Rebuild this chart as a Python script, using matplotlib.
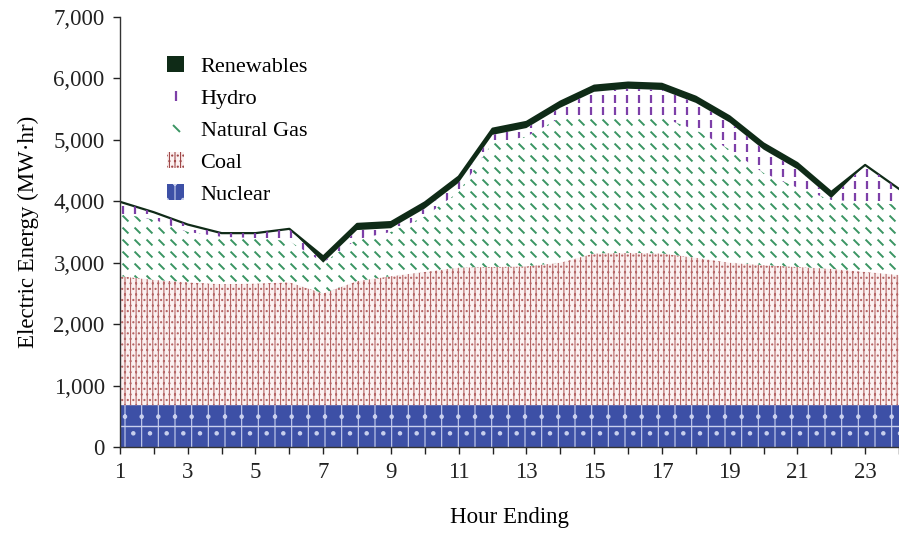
import numpy as np
import matplotlib
matplotlib.use("Agg")
import matplotlib.pyplot as plt
from matplotlib.patches import Patch
from matplotlib.lines import Line2D

plt.rcParams['font.family'] = ['Liberation Serif', 'DejaVu Serif']
plt.rcParams['hatch.linewidth'] = 0.8

# hourly generation by source (MW·hr)
hours = np.arange(1, 25)
nuclear = [680] * 24
coal = [2100, 2040, 2000, 1970, 1980, 2000, 1820, 2020, 2100, 2170, 2240, 2250,
        2260, 2320, 2470, 2480, 2470, 2400, 2320, 2280, 2250, 2220, 2170, 2120]
gas = [1020, 980, 820, 770, 740, 670, 500, 680, 720, 900, 1230, 2020,
       2110, 2360, 2250, 2240, 2210, 2080, 1840, 1500, 1290, 1120, 1140, 1140]
hydro = [190, 120, 120, 60, 80, 200, 0, 150, 60, 130, 150, 130,
         140, 160, 380, 430, 450, 440, 440, 380, 300, 30, 600, 260]
renewables = [0, 0, 0, 0, 0, 0, 100, 100, 100, 100, 100, 100,
              100, 100, 100, 100, 100, 100, 100, 100, 100, 100, 0, 0]

c_nuc = '#3d50a6'
c_coal_bg = '#fbf1f1'
c_coal = '#b56666'
c_gas = '#3a9563'
c_hydro = '#7d3fa8'
c_ren = '#0f2b17'
backslash = [(-1, 1), (1, -1)]

fig = plt.figure(figsize=(8.99, 5.33), dpi=100)
ax = fig.add_axes([0.1335, 0.1614, 0.8665, 0.807])
ax.set_xlim(1, 24)
ax.set_ylim(0, 7000)

b0 = np.zeros(24)
b1 = b0 + np.array(nuclear)
b2 = b1 + np.array(coal)
b3 = b2 + np.array(gas)
b4 = b3 + np.array(hydro)
b5 = b4 + np.array(renewables)

ax.fill_between(hours, b0, b1, facecolor=c_nuc, edgecolor='#c9d0ee', hatch='|.',
                linewidth=0)
ax.plot(hours, b1 / 2, color='#c9d0ee', lw=1.0)
ax.fill_between(hours, b1, b2, facecolor=c_coal_bg, edgecolor=c_coal,
                hatch='|||...', linewidth=0)
gas_poly = ax.fill_between(hours, b2, b3, facecolor='white', linewidth=0)
hyd_poly = ax.fill_between(hours, b3, b4, facecolor='white', linewidth=0)
ax.fill_between(hours, b4, b5, facecolor=c_ren, linewidth=0)
ax.plot(hours, b5, color=c_ren, lw=1.6)

# texture marks for gas and hydro, clipped to their areas
gx, gy = np.meshgrid(np.arange(1.15, 24, 0.354), np.arange(20, 7000, 195))
sc = ax.scatter(gx.ravel(), gy.ravel(), marker=backslash, s=18, color=c_gas,
                linewidths=1.4, zorder=3)
sc.set_clip_path(gas_poly.get_paths()[0], ax.transData)
hx, hy = np.meshgrid(np.arange(1.1, 24, 0.354), np.arange(60, 7000, 200))
sh = ax.scatter(hx.ravel(), hy.ravel(), marker='|', s=40, color=c_hydro,
                linewidths=1.6, zorder=3)
sh.set_clip_path(hyd_poly.get_paths()[0], ax.transData)

ax.set_yticks(range(0, 7001, 1000))
ax.set_yticklabels([f'{v:,}' for v in range(0, 7001, 1000)])
ax.set_xticks(hours)
ax.set_xticklabels([str(h) if h % 2 == 1 else '' for h in hours])
ax.spines['top'].set_visible(False)
ax.spines['right'].set_visible(False)
for s in ['left', 'bottom']:
    ax.spines[s].set_color('#333333')
    ax.spines[s].set_linewidth(1.0)
    ax.spines[s].set_zorder(5)
ax.tick_params(direction='out', length=5, width=1, labelsize=16.5,
               colors='#222222', pad=6)
ax.set_xlabel('Hour Ending', fontsize=16.5, labelpad=17)
ax.set_ylabel('Electric Energy (MW·hr)', fontsize=16.5, labelpad=10)

handles = [
    Patch(facecolor=c_ren, linewidth=0),
    Line2D([], [], ls='', marker='|', markersize=7, mew=1.6, color=c_hydro),
    Line2D([], [], ls='', marker=backslash, markersize=5, mew=1.4, color=c_gas),
    Patch(facecolor=c_coal_bg, edgecolor='#a04848', hatch='|||...', linewidth=0),
    Patch(facecolor=c_nuc, edgecolor='#c9d0ee', hatch='|.', linewidth=0),
]
names = ['Renewables', 'Hydro', 'Natural Gas', 'Coal', 'Nuclear']
ax.legend(handles, names, loc='upper left', bbox_to_anchor=(0.035, 0.955),
          frameon=False, fontsize=16, handlelength=0.75, handleheight=0.75,
          handletextpad=0.75, labelspacing=0.5)

fig.savefig('out.png', dpi=100)
